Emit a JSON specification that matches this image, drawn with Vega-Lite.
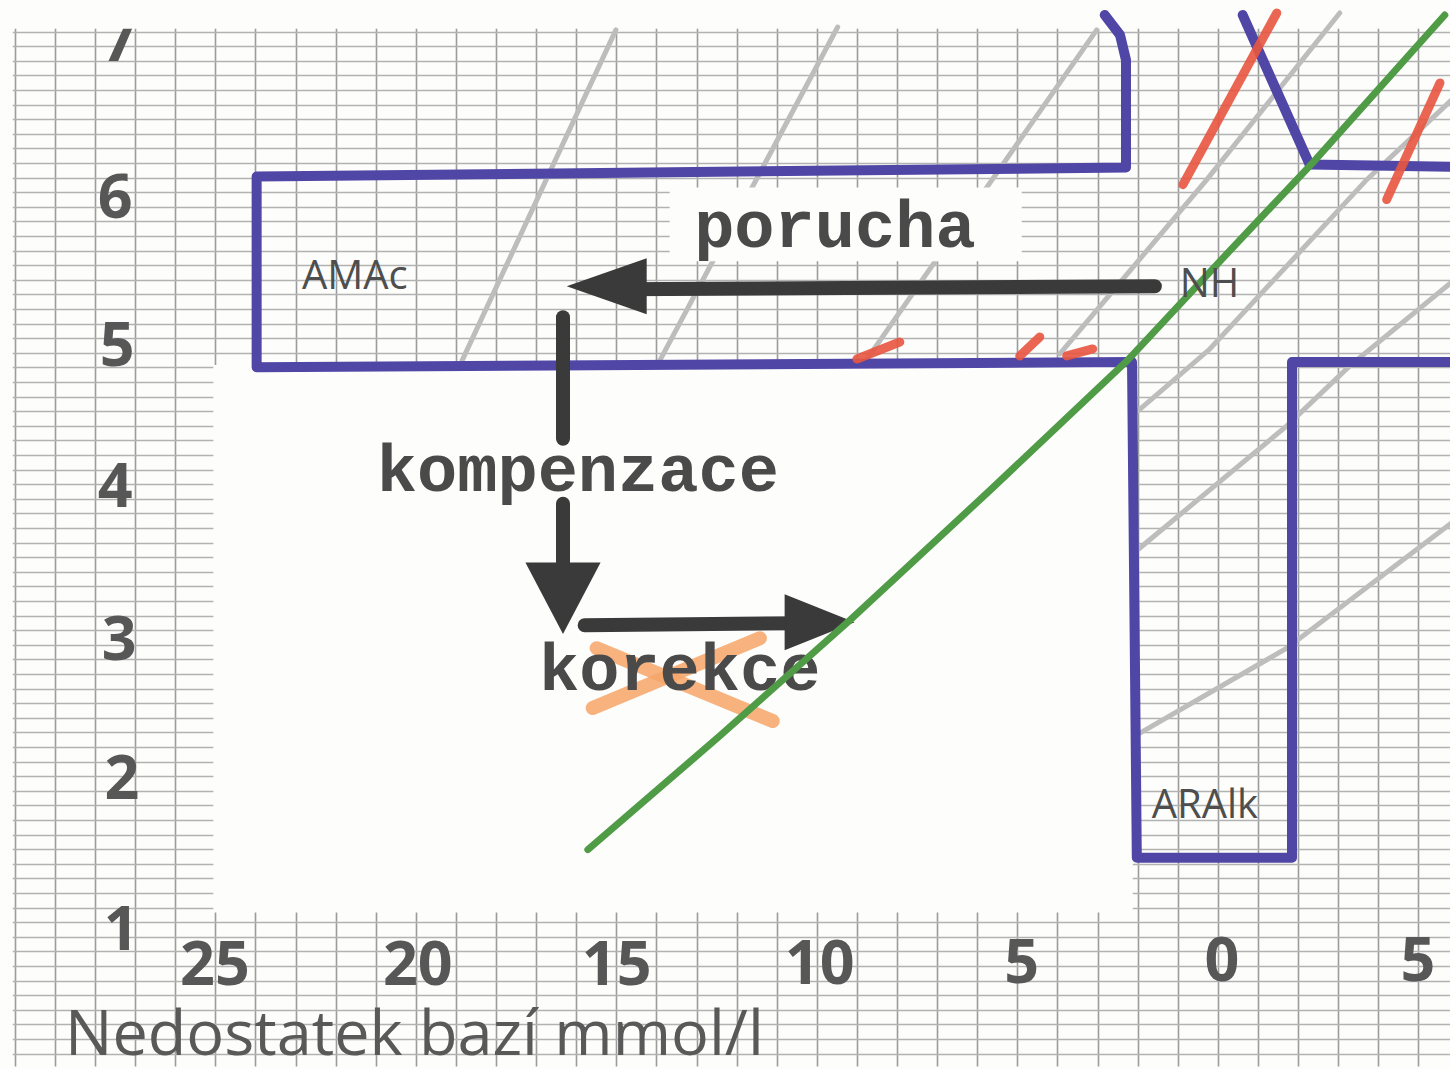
{
  "$schema": "https://vega.github.io/schema/vega-lite/v6.json",
  "width": 1450,
  "height": 1069,
  "autosize": {"type": "fit", "contains": "padding"},
  "padding": 0,
  "background": "#fdfdfb",
  "config": {"view": {"stroke": null}},
  "datasets": {
    "white": [
      {"part": "c", "x": 25.05, "x2": 2.12, "y": 4.917, "y2": 1.167},
      {"part": "c", "x": 30.05, "x2": 31, "y": 0, "y2": 8},
      {"part": "t", "x": 31, "x2": -7, "y": 7.22, "y2": 8},
      {"part": "box", "x": 13.67, "x2": 4.89, "y": 6.133, "y2": 5.627}
    ],
    "ticks": [
      {"t": "25", "x": 25.01, "y": 0.79},
      {"t": "20", "x": 19.95, "y": 0.79},
      {"t": "15", "x": 14.99, "y": 0.79},
      {"t": "10", "x": 9.93, "y": 0.8},
      {"t": "5", "x": 4.89, "y": 0.81},
      {"t": "0", "x": -0.1, "y": 0.82},
      {"t": "5", "x": -4.99, "y": 0.82},
      {"t": "7", "x": 27.4, "y": 7.123},
      {"t": "6", "x": 27.5, "y": 6.05},
      {"t": "5", "x": 27.45, "y": 5.03},
      {"t": "4", "x": 27.5, "y": 4.07},
      {"t": "3", "x": 27.4, "y": 3.02},
      {"t": "2", "x": 27.33, "y": 2.07},
      {"t": "1", "x": 27.35, "y": 1.03}
    ],
    "strokes": [
      {"kind": "gray", "id": "L1", "i": 0, "x": 18.85, "y": 4.945},
      {"kind": "gray", "id": "L1", "i": 1, "x": 15.01, "y": 7.212},
      {"kind": "gray", "id": "L2", "i": 0, "x": 13.92, "y": 4.945},
      {"kind": "gray", "id": "L2", "i": 1, "x": 9.48, "y": 7.232},
      {"kind": "gray", "id": "L3", "i": 0, "x": 8.78, "y": 4.945},
      {"kind": "gray", "id": "L3", "i": 1, "x": 3.02, "y": 7.212},
      {"kind": "gray", "id": "L4", "i": 0, "x": 3.94, "y": 4.993},
      {"kind": "gray", "id": "L4", "i": 1, "x": 0.27, "y": 6.188},
      {"kind": "gray", "id": "L4", "i": 2, "x": -3.04, "y": 7.328},
      {"kind": "gray", "id": "L5", "i": 0, "x": 2.02, "y": 4.595},
      {"kind": "gray", "id": "L5", "i": 1, "x": 0.2, "y": 5.026},
      {"kind": "gray", "id": "L5", "i": 2, "x": -3.72, "y": 6.188},
      {"kind": "gray", "id": "L5", "i": 3, "x": -5.9, "y": 6.75},
      {"kind": "gray", "id": "L6", "i": 0, "x": 2.02, "y": 3.646},
      {"kind": "gray", "id": "L6", "i": 1, "x": -1.72, "y": 4.5},
      {"kind": "gray", "id": "L6", "i": 2, "x": -3.29, "y": 4.911},
      {"kind": "gray", "id": "L6", "i": 3, "x": -5.9, "y": 5.5},
      {"kind": "gray", "id": "L7", "i": 0, "x": 2.02, "y": 2.383},
      {"kind": "gray", "id": "L7", "i": 1, "x": -1.72, "y": 2.977},
      {"kind": "gray", "id": "L7", "i": 2, "x": -5.9, "y": 3.85},
      {"kind": "blue", "id": "B1", "i": 0, "x": 2.82, "y": 7.314},
      {"kind": "blue", "id": "B1", "i": 1, "x": 2.44, "y": 7.178},
      {"kind": "blue", "id": "B1", "i": 2, "x": 2.29, "y": 7.006},
      {"kind": "blue", "id": "B1", "i": 3, "x": 2.29, "y": 6.269},
      {"kind": "blue", "id": "B1", "i": 4, "x": 23.97, "y": 6.208},
      {"kind": "blue", "id": "B1", "i": 5, "x": 23.97, "y": 4.902},
      {"kind": "blue", "id": "B1", "i": 6, "x": 2.14, "y": 4.937},
      {"kind": "blue", "id": "B1", "i": 7, "x": 2.02, "y": 1.542},
      {"kind": "blue", "id": "B1", "i": 8, "x": -1.85, "y": 1.542},
      {"kind": "blue", "id": "B1", "i": 9, "x": -1.85, "y": 4.937},
      {"kind": "blue", "id": "B1", "i": 10, "x": -5.9, "y": 4.937},
      {"kind": "blue", "id": "B2", "i": 0, "x": -0.62, "y": 7.314},
      {"kind": "blue", "id": "B2", "i": 1, "x": -2.29, "y": 6.29},
      {"kind": "blue", "id": "B2", "i": 2, "x": -5.9, "y": 6.275},
      {"kind": "green", "id": "G", "i": 0, "x": 15.71, "y": 1.597},
      {"kind": "green", "id": "G", "i": 1, "x": 12.42, "y": 2.376},
      {"kind": "green", "id": "G", "i": 2, "x": 9.18, "y": 3.168},
      {"kind": "green", "id": "G", "i": 3, "x": 5.69, "y": 4.056},
      {"kind": "green", "id": "G", "i": 4, "x": 2.27, "y": 4.944},
      {"kind": "green", "id": "G", "i": 5, "x": -0.05, "y": 5.627},
      {"kind": "green", "id": "G", "i": 6, "x": -2.37, "y": 6.303},
      {"kind": "green", "id": "G", "i": 7, "x": -5.66, "y": 7.314},
      {"kind": "red", "id": "R1", "i": 0, "x": 0.87, "y": 6.152},
      {"kind": "red", "id": "R1", "i": 1, "x": -1.47, "y": 7.328},
      {"kind": "red", "id": "R2", "i": 0, "x": -4.21, "y": 6.05},
      {"kind": "red", "id": "R2", "i": 1, "x": -5.54, "y": 6.849},
      {"kind": "red", "id": "R3", "i": 0, "x": 9.0, "y": 4.958},
      {"kind": "red", "id": "R3", "i": 1, "x": 7.93, "y": 5.074},
      {"kind": "red", "id": "R4", "i": 0, "x": 4.94, "y": 4.979},
      {"kind": "red", "id": "R4", "i": 1, "x": 4.44, "y": 5.109},
      {"kind": "red", "id": "R5", "i": 0, "x": 3.77, "y": 4.979},
      {"kind": "red", "id": "R5", "i": 1, "x": 3.12, "y": 5.027},
      {"kind": "orange", "id": "O1", "i": 0, "x": 15.59, "y": 2.567},
      {"kind": "orange", "id": "O1", "i": 1, "x": 11.42, "y": 3.045},
      {"kind": "orange", "id": "O2", "i": 0, "x": 15.49, "y": 2.977},
      {"kind": "orange", "id": "O2", "i": 1, "x": 11.1, "y": 2.478},
      {"kind": "arrow", "id": "A1", "i": 0, "x": 1.57, "y": 5.456},
      {"kind": "arrow", "id": "A1", "i": 1, "x": 14.91, "y": 5.436},
      {"kind": "arrow", "id": "A2", "i": 0, "x": 16.33, "y": 5.244},
      {"kind": "arrow", "id": "A2", "i": 1, "x": 16.33, "y": 4.412},
      {"kind": "arrow", "id": "A3", "i": 0, "x": 16.33, "y": 3.967},
      {"kind": "arrow", "id": "A3", "i": 1, "x": 16.33, "y": 3.557},
      {"kind": "arrow", "id": "A4", "i": 0, "x": 15.79, "y": 3.134},
      {"kind": "arrow", "id": "A4", "i": 1, "x": 10.42, "y": 3.148}
    ],
    "heads": [
      {"dir": "left", "x": 15.24, "y": 5.456},
      {"dir": "down", "x": 16.33, "y": 3.332},
      {"dir": "right", "x": 9.93, "y": 3.155}
    ],
    "words": [
      {"t": "porucha", "x": 9.55, "y": 5.723},
      {"t": "kompenzace", "x": 15.96, "y": 4.057},
      {"t": "korekce", "x": 13.42, "y": 2.69}
    ],
    "small": [
      {"t": "AMAc", "x": 22.84, "y": 5.436},
      {"t": "NH", "x": 0.95, "y": 5.38},
      {"t": "ARAlk", "x": 1.65, "y": 1.815}
    ],
    "title": [
      {"t": "Nedostatek bazí mmol/l", "x": 28.75, "y": 0.19}
    ]
  },
  "encoding": {
    "x": {
      "field": "x", "type": "quantitative",
      "scale": {"domain": [-5.79, 30.37], "reverse": true, "nice": false, "zero": false},
      "axis": {"title": null, "labels": false, "ticks": false, "domain": false, "grid": true, "tickCount": 40, "gridColor": "#9c9c9c", "gridWidth": 1.6}
    },
    "y": {
      "field": "y", "type": "quantitative",
      "scale": {"domain": [0.115, 7.417], "nice": false, "zero": false},
      "axis": {"title": null, "labels": false, "ticks": false, "domain": false, "grid": true, "tickCount": 75, "gridColor": "#b2b2b2", "gridWidth": 1.3}
    }
  },
  "layer": [
    {
      "data": {"name": "white"},
      "transform": [{"filter": "datum.part == 'c'"}],
      "mark": {"type": "rect", "color": "#fdfdfb", "clip": true},
      "encoding": {"x2": {"field": "x2"}, "y2": {"field": "y2"}}
    },
    {
      "data": {"name": "ticks"},
      "mark": {"type": "text", "font": "Open Sans", "fontWeight": "bold", "fontSize": 61, "color": "#575757", "align": "center", "baseline": "middle"},
      "encoding": {"text": {"field": "t"}}
    },
    {
      "data": {"name": "white"},
      "transform": [{"filter": "datum.part == 't'"}],
      "mark": {"type": "rect", "color": "#fdfdfb", "clip": true},
      "encoding": {"x2": {"field": "x2"}, "y2": {"field": "y2"}}
    },
    {
      "data": {"name": "strokes"},
      "transform": [{"filter": "datum.kind == 'gray'"}],
      "mark": {"type": "line", "color": "#bdbdbd", "strokeWidth": 5, "strokeCap": "round", "clip": true},
      "encoding": {"detail": {"field": "id"}, "order": {"field": "i"}}
    },
    {
      "data": {"name": "strokes"},
      "transform": [{"filter": "datum.kind == 'blue'"}],
      "mark": {"type": "line", "color": "#5046a6", "strokeWidth": 10, "strokeCap": "round", "strokeJoin": "round", "clip": true},
      "encoding": {"detail": {"field": "id"}, "order": {"field": "i"}}
    },
    {
      "data": {"name": "strokes"},
      "transform": [{"filter": "datum.kind == 'red'"}],
      "mark": {"type": "line", "color": "#e8553f", "strokeWidth": 9, "strokeCap": "round", "opacity": 0.9, "clip": true},
      "encoding": {"detail": {"field": "id"}, "order": {"field": "i"}}
    },
    {
      "data": {"name": "strokes"},
      "transform": [{"filter": "datum.kind == 'orange'"}],
      "mark": {"type": "line", "color": "#f6a467", "strokeWidth": 14, "strokeCap": "round", "opacity": 0.85, "clip": true},
      "encoding": {"detail": {"field": "id"}, "order": {"field": "i"}}
    },
    {
      "data": {"name": "white"},
      "transform": [{"filter": "datum.part == 'box'"}],
      "mark": {"type": "rect", "color": "#fdfdfb"},
      "encoding": {"x2": {"field": "x2"}, "y2": {"field": "y2"}}
    },
    {
      "data": {"name": "strokes"},
      "transform": [{"filter": "datum.kind == 'arrow'"}],
      "mark": {"type": "line", "color": "#3a3a3a", "strokeWidth": 14, "strokeCap": "round"},
      "encoding": {"detail": {"field": "id"}, "order": {"field": "i"}}
    },
    {
      "data": {"name": "heads"},
      "mark": {"type": "point", "filled": true, "opacity": 1, "color": "#3a3a3a", "strokeWidth": 0},
      "encoding": {
        "shape": {"field": "dir", "type": "nominal", "legend": null,
          "scale": {"domain": ["left", "down", "right"], "range": ["M -1 0 L 1 -0.7 L 1 0.7 Z", "M 0 1 L -1 -0.9 L 1 -0.9 Z", "M 1 0 L -1 -0.8 L -1 0.8 Z"]}},
        "size": {"field": "dir", "type": "ordinal", "legend": null,
          "scale": {"domain": ["left", "down", "right"], "range": [6400, 4900, 3600]}}
      }
    },
    {
      "data": {"name": "words"},
      "mark": {"type": "text", "font": "Liberation Mono", "fontWeight": "bold", "fontSize": 67, "color": "#4a4a4a", "align": "center", "baseline": "alphabetic"},
      "encoding": {"text": {"field": "t"}}
    },
    {
      "data": {"name": "strokes"},
      "transform": [{"filter": "datum.kind == 'green'"}],
      "mark": {"type": "line", "color": "#4f9b46", "strokeWidth": 7, "strokeCap": "round", "clip": true},
      "encoding": {"detail": {"field": "id"}, "order": {"field": "i"}}
    },
    {
      "data": {"name": "small"},
      "mark": {"type": "text", "font": "Open Sans", "fontSize": 40, "color": "#4e4e4e", "align": "left", "baseline": "alphabetic"},
      "encoding": {"text": {"field": "t"}}
    },
    {
      "data": {"name": "title"},
      "mark": {"type": "text", "font": "Open Sans", "fontSize": 63, "color": "#595959", "align": "left", "baseline": "alphabetic"},
      "encoding": {"text": {"field": "t"}}
    }
  ]
}
